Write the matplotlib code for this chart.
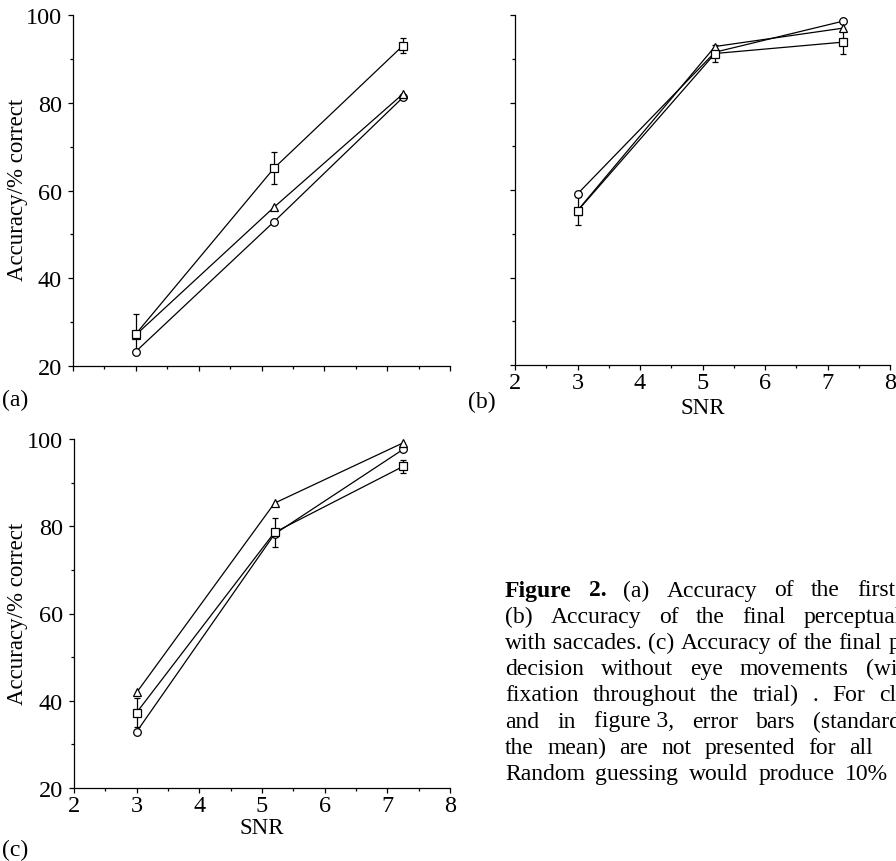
import matplotlib
matplotlib.use("Agg")
import matplotlib.pyplot as plt
from matplotlib.ticker import MultipleLocator

plt.rcParams['font.family'] = ['Liberation Serif', 'DejaVu Serif']

# ---------------- data ----------------
snr = [3.0, 5.2, 7.25]

a_square = [27.3, 65.1, 93.0]
a_square_err = [4.5, 3.7, 1.7]
a_triangle = [27.1, 56.2, 82.0]
a_circle = [23.3, 52.9, 81.2]

b_square = [55.2, 91.2, 93.8]
b_square_err = [3.1, 2.0, 2.7]
b_triangle = [55.3, 92.8, 97.0]
b_circle = [59.1, 91.5, 98.6]

c_square = [37.3, 78.6, 93.7]
c_square_err = [3.3, 3.3, 1.5]
c_triangle = [41.9, 85.3, 99.1]
c_circle = [32.9, 78.2, 97.6]

y_ticks = [20, 40, 60, 80, 100]
x_ticks = [2, 3, 4, 5, 6, 7, 8]

caption_lines = [
    [("Figure", True), ("2.", True), ("(a)", False), ("Accuracy", False), ("of", False), ("the", False), ("first", False)],
    [("(b)", False), ("Accuracy", False), ("of", False), ("the", False), ("final", False), ("perceptual", False)],
    [("with", False), ("saccades.", False), ("(c)", False), ("Accuracy", False), ("of", False), ("the", False), ("final", False), ("p", False)],
    [("decision", False), ("without", False), ("eye", False), ("movements", False), ("(wi", False)],
    [("fixation", False), ("throughout", False), ("the", False), ("trial)", False), (".", False), ("For", False), ("cl", False)],
    [("and", False), ("in", False), ("figure 3,", False), ("error", False), ("bars", False), ("(standard", False)],
    [("the", False), ("mean)", False), ("are", False), ("not", False), ("presented", False), ("for", False), ("all", False)],
    [("Random", False), ("guessing", False), ("would", False), ("produce", False), ("10%", False)],
]
caption_ends = [895, 902, 900, 897, 896, 901, 873, 888]

# ---------------- figure ----------------
W, H = 896, 862
fig = plt.figure(figsize=(W / 100, H / 100), dpi=100)


def box(l, t, r, b):
    return [l / W, 1 - b / H, (r - l) / W, (b - t) / H]


ax_a = fig.add_axes(box(73, 16, 450, 367))
ax_b = fig.add_axes(box(515, 16, 890, 366))
ax_c = fig.add_axes(box(74, 440, 450, 789))

LW = 0.9
mk = dict(color='black', lw=LW, mfc='white', mec='black', mew=0.9)


def draw(ax, sq, sqe, tr, ci, xlabels, ylabels):
    ax.plot(snr, ci, marker='o', ms=5.5, **mk, zorder=3)
    ax.plot(snr, tr, marker='^', ms=6, **mk, zorder=4)
    ax.errorbar(snr, sq, yerr=sqe, fmt='none', ecolor='black', elinewidth=LW, capsize=2.2, capthick=LW, zorder=2)
    ax.plot(snr, sq, marker='s', ms=6, **mk, zorder=5)
    ax.set_xlim(2, 8)
    ax.set_ylim(20, 100)
    ax.set_xticks(x_ticks)
    ax.set_yticks(y_ticks)
    ax.xaxis.set_minor_locator(MultipleLocator(0.5))
    ax.yaxis.set_minor_locator(MultipleLocator(10))
    for s in ['top', 'right']:
        ax.spines[s].set_visible(False)
    for s in ['left', 'bottom']:
        ax.spines[s].set_linewidth(LW)
    ax.tick_params(which='major', direction='out', length=3.5, width=LW, labelsize=17.5)
    ax.tick_params(which='minor', direction='out', length=2.2, width=LW)
    ax.tick_params(axis='y', pad=4.5)
    ax.tick_params(axis='x', pad=1.5)
    if not xlabels:
        ax.set_xticklabels([])
    if not ylabels:
        ax.set_yticklabels([])
    ax.patch.set_visible(False)


draw(ax_a, a_square, a_square_err, a_triangle, a_circle, False, True)
draw(ax_b, b_square, b_square_err, b_triangle, b_circle, True, False)
draw(ax_c, c_square, c_square_err, c_triangle, c_circle, True, True)


def ftext(x, y, s, **kw):
    return fig.text(x / W, 1 - y / H, s, **kw)


ftext(18, 190, "Accuracy/% correct", rotation=90, ha='center', va='center', fontsize=16.5)
ftext(18, 614, "Accuracy/% correct", rotation=90, ha='center', va='center', fontsize=16.5)
ftext(703, 409, "SNR", ha='center', va='center', fontsize=16.5)
ftext(262, 829, "SNR", ha='center', va='center', fontsize=16.5)
ftext(2, 400, "(a)", ha='left', va='center', fontsize=17)
ftext(468, 402, "(b)", ha='left', va='center', fontsize=17)
ftext(2, 850, "(c)", ha='left', va='center', fontsize=17)

# ---------------- caption (justified) ----------------
x0 = 505
fig.canvas.draw()
renderer = fig.canvas.get_renderer()
for i, (words, xend) in enumerate(zip(caption_lines, caption_ends)):
    yc = 591 + 26.2 * i
    objs = []
    widths = []
    for w, bold in words:
        t = ftext(0, yc, w, ha='left', va='center', fontsize=17,
                  fontweight='bold' if bold else 'normal')
        objs.append(t)
        widths.append(t.get_window_extent(renderer).width)
    gap = (xend - x0 - sum(widths)) / (len(words) - 1)
    x = x0
    for t, wd in zip(objs, widths):
        t.set_position((x / W, 1 - yc / H))
        x += wd + gap

fig.savefig("out.png", dpi=100)
